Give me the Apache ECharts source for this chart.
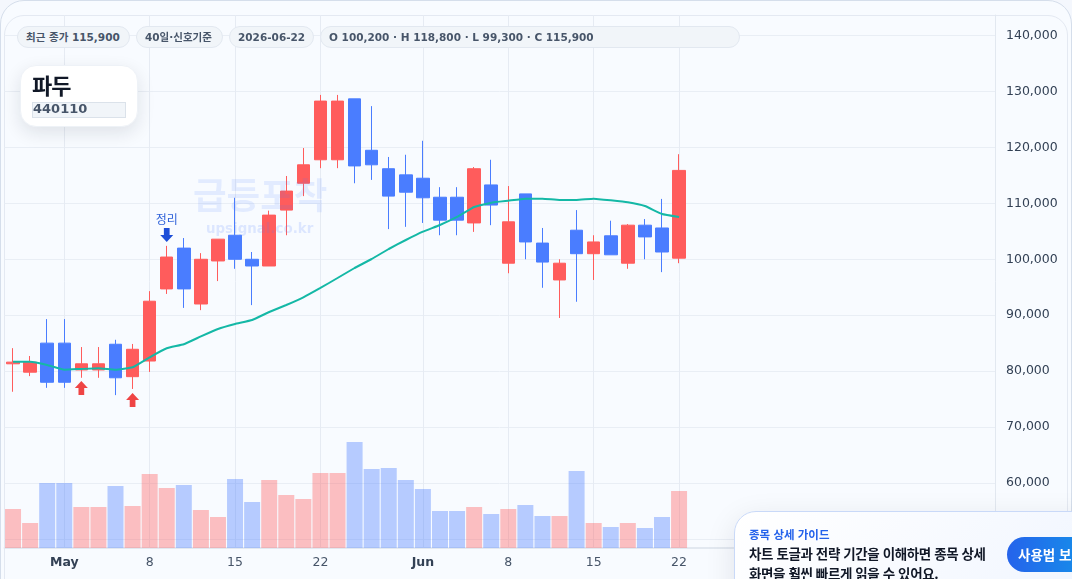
<!DOCTYPE html>
<html lang="ko">
<head>
<meta charset="utf-8">
<title>파두 440110</title>
<script src="https://cdn.jsdelivr.net/npm/echarts@6/dist/echarts.min.js"></script>
<style>
  html, body { margin: 0; height: 100%; overflow: hidden; background: #f4f7fd; }
  body { font-family: "DejaVu Sans", "Noto Sans CJK KR", sans-serif; }
  #shell { position: absolute; left: 0; top: 0; width: 1072px; height: 620px; box-sizing: border-box;
    background: #f8fbff; border: 1px solid #d5deeb; border-radius: 24px; }
  #panel { position: absolute; left: 4px; top: 15px; width: 1064px; height: 590px; box-sizing: border-box;
    background: #f8fbff; border: 1px solid #e4e9f2; border-radius: 20px; }
  #chart { position: absolute; left: 0; top: 0; width: 1072px; height: 579px; }
  .chip { position: absolute; top: 26px; height: 22px; box-sizing: border-box; padding: 0 8px; line-height: 21px;
    background: #f1f5f9; border: 1px solid #e2e8f0; border-radius: 11px;
    font-size: 10.5px; font-weight: 700; color: #475569; white-space: nowrap; }
  #ticker { position: absolute; left: 20px; top: 65px; width: 118px; height: 62px; box-sizing: border-box;
    background: #fff; border: 1px solid #eef2f7; border-radius: 16px; box-shadow: 0 6px 18px rgba(15,23,42,.11); }
  #ticker .name { position: absolute; left: 11px; top: 2px; font: 700 22px/32px "Noto Sans CJK KR", sans-serif; letter-spacing: -1px; color: #111827; }
  #ticker .code { position: absolute; left: 11px; top: 36px; width: 94px; height: 16px; box-sizing: border-box; padding-left: 0;
    background: #f1f5f9; border: 1px solid #dbe2ea; font-size: 13px; line-height: 12px; font-weight: 700; color: #475569; }
  #guide { position: absolute; left: 734px; top: 511px; width: 400px; height: 120px; box-sizing: border-box;
    background: linear-gradient(135deg, #ffffff, #eef4ff); border: 1px solid #c9d9f8; border-radius: 22px;
    box-shadow: 0 8px 30px rgba(15,23,42,.10); font-family: "Noto Sans CJK KR", sans-serif; }
  #guide .kicker { position: absolute; left: 14px; top: 13px; font-size: 11.5px; line-height: 18px; font-weight: 700; color: #2563eb; white-space: nowrap; }
  #guide .msg { position: absolute; left: 14px; top: 31px; font-size: 13.5px; letter-spacing: -.4px; line-height: 20px; font-weight: 700; color: #111827; white-space: nowrap; }
  #guide .btn { position: absolute; left: 272px; top: 25px; width: 120px; height: 35px; border-radius: 18px; padding-left: 11px; box-sizing: border-box;
    background: linear-gradient(90deg, #2563eb, #0ea5e9); color: #fff; font-size: 13.5px; line-height: 35px; font-weight: 700; white-space: nowrap; }
</style>
</head>
<body>
<div id="shell"></div>
<div id="panel"></div>
<div id="chart"></div>
<div class="chip" style="left:17px;width:113px">최근 종가 115,900</div>
<div class="chip" style="left:136px;width:87px">40일·신호기준</div>
<div class="chip" style="left:229px;width:85px">2026-06-22</div>
<div class="chip" style="left:320px;width:420px">O 100,200 · H 118,800 · L 99,300 · C 115,900</div>
<div id="ticker"><div class="name">파두</div><div class="code">440110</div></div>
<div id="guide">
  <div class="kicker">종목 상세 가이드</div>
  <div class="msg">차트 토글과 전략 기간을 이해하면 종목 상세<br>화면을 훨씬 빠르게 읽을 수 있어요.</div>
  <div class="btn">사용법 보기</div>
</div>
<script>
// Daily session dates; the trailing blanks leave room on the right of the last candle.
const dates = ['04-28','04-29','04-30','05-01','05-04','05-05','05-06','05-07','05-08','05-11',
  '05-12','05-13','05-14','05-15','05-18','05-19','05-20','05-21','05-22','05-25',
  '05-26','05-27','05-28','05-29','06-01','06-02','06-03','06-04','06-05','06-08',
  '06-09','06-10','06-11','06-12','06-15','06-16','06-17','06-18','06-19','06-22'];
const emptySlots = 18;

const opens  = [81300,79800,85000,85000,80200,80200,84800,79000,81800,94700,
  102000,92000,99700,104300,100000,98800,108800,113600,117800,117800,
  128700,119500,116200,115100,114500,111100,111100,106500,113300,99300,
  111700,102900,96300,105200,101000,104200,99300,106100,105600,100200];
const closes = [81600,81600,78000,78000,81300,81300,78800,83900,92500,100400,
  94700,100000,103600,100000,98800,107900,112200,116900,128300,128300,
  116700,116900,111300,112000,111000,107000,107000,116200,109700,106700,
  103100,99500,99300,101000,103100,100800,106100,104000,101300,115900];
const lows   = [76300,79100,77000,77000,78800,78800,75700,76800,79850,93800,
  91300,90900,96100,98300,91800,98800,104300,111300,116300,116300,
  113600,114200,105400,105800,106500,104300,104300,104900,106100,97500,
  100000,94900,89500,92400,96300,100800,98300,100000,97700,99300];
const highs  = [84100,82700,89300,89300,84300,84300,85600,84850,94300,102400,
  103800,101100,103600,111000,101300,108700,114900,119900,129400,129400,
  128700,127400,118300,118700,121200,112900,112900,116500,117800,113100,
  111700,105600,100000,108800,104300,106900,106300,107200,110800,118800];
const signalLine = [81680,81680,81090,80250,80380,80500,80250,80680,82470,84080,
  84800,86200,87530,88420,89140,90570,91820,93200,94870,96650,
  98440,100050,101840,103450,104940,106140,107570,109360,110130,110480,
  110840,110840,110610,110610,110840,110550,110200,109530,108100,107570];
const volumes = [390,250,650,650,410,410,620,420,740,600,
  630,380,310,690,460,680,530,490,750,750,
  1060,790,800,680,590,370,370,410,340,390,
  430,320,320,770,250,210,250,200,310,570];

const upColor = '#ff5c5c';
const downColor = '#4a7dff';
const priceAxisMin = 48350;
const priceAxisMax = 143700;
const volumeAxisMax = 5330;

// Entry and exit flags, anchored to a session index and a price level.
const buySignals = [[4, 76980], [7, 74830]];
const cleanupSignals = [[9, 104350]];
const cleanupLabel = '정리';

const arrowPath = 'path://M50 0 L100 50 L72 50 L72 100 L28 100 L28 50 L0 50 Z';
const labelFont = '"DejaVu Sans", "Noto Sans CJK KR", sans-serif';

const categories = dates.concat(Array(emptySlots).fill(''));
const candles = dates.map((_, i) => [opens[i], closes[i], lows[i], highs[i]]);
const volumeBars = volumes.map((v, i) => ({
  value: v,
  itemStyle: { color: closes[i] >= opens[i] ? 'rgba(255,92,92,.38)' : 'rgba(74,125,255,.38)' }
}));

// Labels sit on the first session of the month and on fixed calendar days.
const tickLabels = { '05-01': 'May', '05-08': '8', '05-15': '15', '05-22': '22',
  '06-01': 'Jun', '06-08': '8', '06-15': '15', '06-22': '22' };
const isTick = (i, name) => name in tickLabels;

const chart = echarts.init(document.getElementById('chart'), null, { renderer: 'canvas' });
chart.setOption({
  animation: false,
  backgroundColor: 'transparent',
  textStyle: { fontFamily: labelFont },
  grid: { left: 4.5, right: 77, top: 15, bottom: 31 },
  xAxis: {
    type: 'category',
    data: categories,
    boundaryGap: true,
    axisLine: { lineStyle: { color: '#e2e8f0', width: 2 } },
    axisTick: { show: false },
    splitLine: { show: true, alignWithLabel: true, interval: isTick, lineStyle: { color: '#e6ebf3', width: 1 } },
    axisLabel: {
      interval: isTick,
      margin: 8,
      hideOverlap: false,
      color: '#475569',
      fontSize: 12.5,
      formatter: name => {
        const t = tickLabels[name];
        if (!t) return '';
        return isNaN(+t) ? '{month|' + t + '}' : t;
      },
      rich: { month: { fontWeight: 700, color: '#334155', fontSize: 12.5, fontFamily: labelFont } }
    }
  },
  yAxis: [
    {
      type: 'value',
      position: 'right',
      min: priceAxisMin,
      max: priceAxisMax,
      minInterval: 10000,
      maxInterval: 10000,
      scale: true,
      axisLine: { show: true, lineStyle: { color: '#e2e8f0' } },
      axisTick: { show: false },
      splitLine: { show: true, showMinLine: false, showMaxLine: false, lineStyle: { color: '#e9eef5', width: 1 } },
      axisLabel: {
        showMinLabel: false,
        showMaxLabel: false,
        margin: 11,
        color: '#334155',
        fontSize: 12.5,
        verticalAlign: 'middle',
        formatter: v => v.toLocaleString('en-US')
      }
    },
    { type: 'value', min: 0, max: volumeAxisMax, show: false, splitLine: { show: false } }
  ],
  graphic: [
    { type: 'text', z: 50, left: 193, top: 177, silent: true,
      style: { text: '급등포착', fontFamily: '"Noto Sans CJK KR", sans-serif', fontSize: 36.5, fontWeight: 700, fill: 'rgba(74,125,255,.12)' } },
    { type: 'text', z: 50, left: 206, top: 223, silent: true,
      style: { text: 'upsignal.co.kr', fontFamily: labelFont, fontSize: 13.4, fontWeight: 700, fill: 'rgba(74,125,255,.16)' } }
  ],
  series: [
    {
      name: '거래량', type: 'bar', yAxisIndex: 1, data: volumeBars, barWidth: 16, z: 1
    },
    {
      name: '가격', type: 'candlestick', data: candles, barWidth: 13, z: 3,
      itemStyle: { color: upColor, color0: downColor, borderColor: upColor, borderColor0: downColor, borderWidth: 1 }
    },
    {
      name: '신호선', type: 'line', data: signalLine, smooth: 0.1, showSymbol: false, z: 4,
      lineStyle: { color: '#14b8a6', width: 2 }
    },
    {
      name: '매수', type: 'scatter', data: buySignals, symbol: arrowPath, symbolSize: [13, 14], z: 5,
      itemStyle: { color: '#ef4444', opacity: 1 }
    },
    {
      name: '정리', type: 'scatter', data: cleanupSignals, symbol: arrowPath, symbolRotate: 180, symbolSize: [13, 14], z: 5,
      itemStyle: { color: '#1d4ed8', opacity: 1 },
      label: { show: true, position: 'top', distance: 3, formatter: cleanupLabel, color: '#2f62d9', fontSize: 12,
        fontFamily: '"Noto Sans CJK KR", sans-serif' }
    }
  ]
});
</script>
</body>
</html>
